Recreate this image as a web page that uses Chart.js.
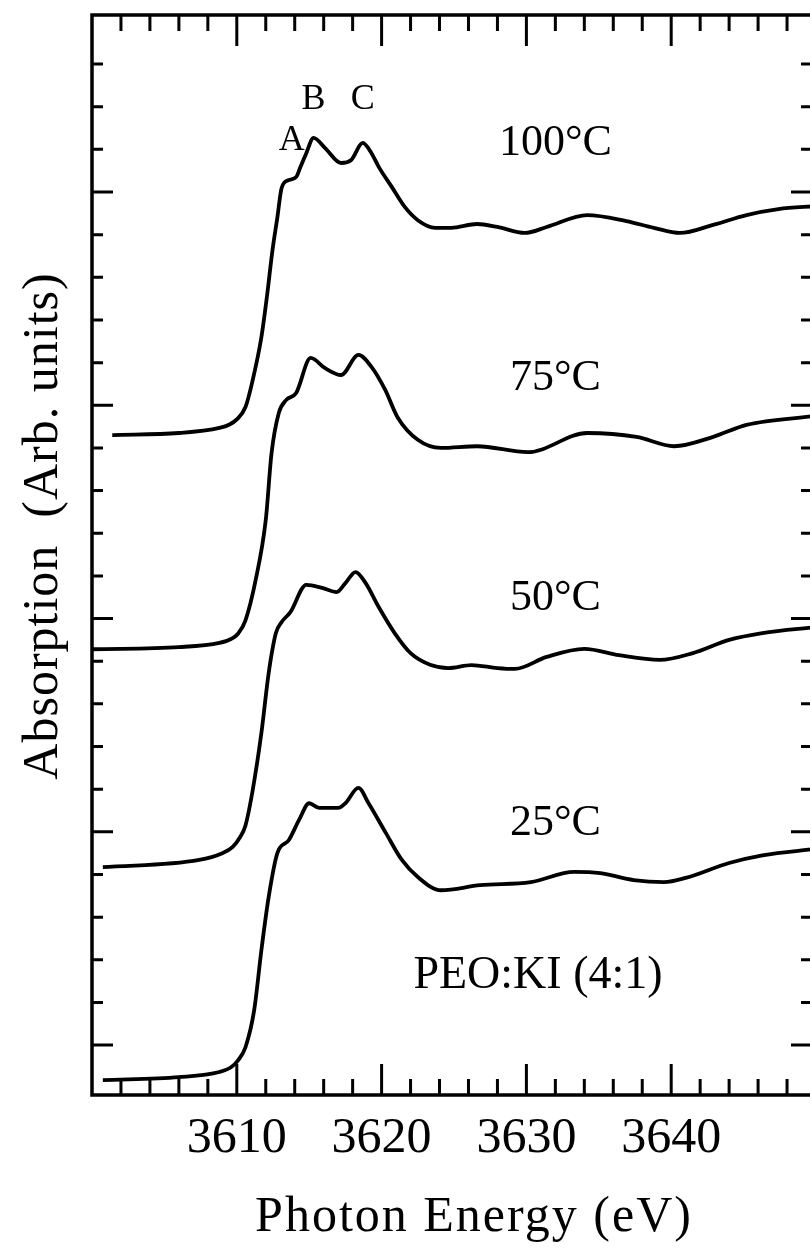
<!DOCTYPE html>
<html>
<head>
<meta charset="utf-8">
<script src="https://cdn.jsdelivr.net/npm/chart.js@4.4.1/dist/chart.umd.min.js"></script>
<style>
    html, body { margin: 0; padding: 0; background: #fff; overflow: hidden; width: 810px; height: 1252px; }
    canvas { display: block; }
</style>
</head>
<body>
<canvas id="xanes" width="822" height="1252"></canvas>
<script>
// ---- data (photon energy in eV, absorption in arb. units, curves stacked) ----
const xTickLabels = [3610, 3620, 3630, 3640];
const temperatures = ["100°C", "75°C", "50°C", "25°C"];
const peakLabels = ["A", "B", "C"];
const sampleLabel = "PEO:KI (4:1)";

const e100 = [3601.4, 3606.0, 3608.8, 3609.5, 3610.0, 3610.6, 3611.05, 3611.7, 3612.1, 3612.45, 3612.8, 3613.1, 3613.6, 3614.1, 3614.4, 3614.8, 3615.3, 3616.1, 3617.2, 3617.9, 3618.7, 3619.3, 3619.8, 3620.7, 3621.6, 3622.5, 3623.7, 3624.8, 3626.6, 3628.0, 3629.9, 3631.4, 3634.2, 3636.9, 3638.8, 3640.6, 3642.9, 3645.2, 3647.4, 3650.0];
const a100 = [14.30, 14.35, 14.47, 14.55, 14.67, 14.96, 15.52, 16.6, 17.6, 18.6, 19.4, 20.1, 20.28, 20.35, 20.59, 20.91, 21.27, 21.03, 20.68, 20.75, 21.15, 20.91, 20.59, 20.12, 19.65, 19.34, 19.16, 19.16, 19.25, 19.18, 19.04, 19.18, 19.46, 19.32, 19.16, 19.04, 19.23, 19.46, 19.60, 19.67];

const e75 = [3600.0, 3606.0, 3608.8, 3609.6, 3610.1, 3610.6, 3611.3, 3612.0, 3612.4, 3612.9, 3613.4, 3614.1, 3615.1, 3616.1, 3617.2, 3618.4, 3619.3, 3620.25, 3621.1, 3622.5, 3624.1, 3626.6, 3630.1, 3634.2, 3637.6, 3640.2, 3642.9, 3645.2, 3650.0];
const a75 = [9.28, 9.33, 9.43, 9.52, 9.65, 9.96, 10.90, 12.31, 13.88, 14.82, 15.12, 15.29, 16.11, 15.87, 15.71, 16.18, 15.90, 15.36, 14.72, 14.19, 14.00, 14.04, 13.90, 14.35, 14.26, 14.04, 14.26, 14.54, 14.75];

const e50 = [3600.75, 3607.4, 3609.0, 3609.7, 3610.2, 3610.6, 3611.1, 3611.7, 3612.2, 3612.7, 3613.1, 3613.7, 3614.8, 3615.9, 3616.9, 3617.5, 3618.2, 3618.9, 3619.8, 3620.9, 3622.0, 3623.4, 3624.6, 3626.2, 3628.0, 3629.2, 3631.4, 3634.0, 3636.4, 3639.2, 3641.5, 3644.0, 3646.3, 3650.0];
const a50 = [4.17, 4.34, 4.50, 4.64, 4.86, 5.15, 5.98, 7.32, 8.72, 9.66, 9.92, 10.15, 10.79, 10.72, 10.62, 10.83, 11.09, 10.83, 10.27, 9.66, 9.19, 8.91, 8.84, 8.91, 8.84, 8.82, 9.10, 9.29, 9.14, 9.03, 9.19, 9.50, 9.66, 9.80];

const e25 = [3600.75, 3606.0, 3608.8, 3609.6, 3610.1, 3610.6, 3611.2, 3611.7, 3612.2, 3612.8, 3613.6, 3614.3, 3615.0, 3615.7, 3617.0, 3617.5, 3618.4, 3619.1, 3620.3, 3621.4, 3622.5, 3624.1, 3626.8, 3630.3, 3633.3, 3635.1, 3637.4, 3639.5, 3641.0, 3644.0, 3646.3, 3650.0];
const a25 = [-0.82, -0.75, -0.63, -0.52, -0.35, -0.05, 0.82, 2.23, 3.47, 4.50, 4.81, 5.28, 5.67, 5.56, 5.56, 5.67, 6.03, 5.67, 4.97, 4.34, 3.94, 3.63, 3.75, 3.82, 4.06, 4.03, 3.87, 3.82, 3.92, 4.27, 4.45, 4.60];

const SERIF = "'Liberation Serif', 'Times New Roman', serif";

function toPoints(xs, ys) {
    return xs.map((x, i) => ({ x: x, y: ys[i] }));
}

function curve(label, xs, ys) {
    return {
        label: label,
        data: toPoints(xs, ys),
        borderColor: "#000",
        borderWidth: 3.8,
        pointRadius: 0,
        fill: false,
        cubicInterpolationMode: "monotone",
    };
}

// frame, inward ticks on all four sides, and the text labels
const frameAndText = {
    id: "frameAndText",
    afterDraw(chart) {
        const { ctx, chartArea: a, scales: { x, y } } = chart;
        ctx.save();
        ctx.strokeStyle = "#000";
        ctx.fillStyle = "#000";
        ctx.lineWidth = 3.5;
        ctx.lineCap = "square";

        ctx.strokeRect(a.left, a.top, a.right - a.left, a.bottom - a.top);

        ctx.lineCap = "butt";
        ctx.lineWidth = 3;
        x.ticks.forEach((t) => {
            const v = t.value;
            if (v <= x.min + 1e-6 || v >= x.max - 1e-6) return;
            const px = x.getPixelForValue(v);
            const major = Math.abs(v - Math.round(v / 10) * 10) < 1e-6;
            const len = major ? 31 : 16;
            ctx.beginPath();
            ctx.moveTo(px, a.bottom);
            ctx.lineTo(px, a.bottom - len);
            ctx.moveTo(px, a.top);
            ctx.lineTo(px, a.top + len);
            ctx.stroke();
        });

        y.ticks.forEach((t) => {
            const v = t.value;
            if (!Number.isInteger(v) || v <= y.min || v >= y.max) return;
            const py = y.getPixelForValue(v);
            const major = v % 5 === 0;
            ctx.beginPath();
            ctx.moveTo(a.left, py);
            ctx.lineTo(a.left + (major ? 21 : 11), py);
            ctx.moveTo(a.right, py);
            ctx.lineTo(a.right - (major ? 25 : 15), py);
            ctx.stroke();
        });

        ctx.textAlign = "center";
        ctx.textBaseline = "middle";
        ctx.font = "36px " + SERIF;
        const peakPos = [[3613.8, 21.2], [3615.3, 22.16], [3618.7, 22.16]];
        peakLabels.forEach((txt, i) => {
            ctx.fillText(txt, x.getPixelForValue(peakPos[i][0]), y.getPixelForValue(peakPos[i][1]));
        });

        ctx.textBaseline = "alphabetic";
        ctx.font = "44px " + SERIF;
        const tempBase = [20.87, 15.36, 10.2, 4.92];
        temperatures.forEach((txt, i) => {
            ctx.fillText(txt, x.getPixelForValue(3632), y.getPixelForValue(tempBase[i]));
        });
        ctx.font = "46px " + SERIF;
        ctx.fillText(sampleLabel, x.getPixelForValue(3630.8), y.getPixelForValue(1.34));

        // axis titles
        ctx.font = "50px " + SERIF;
        ctx.letterSpacing = "2px";
        ctx.fillText("Photon Energy (eV)", 474, 1231);
        ctx.translate(57, 526);
        ctx.rotate(-Math.PI / 2);
        ctx.letterSpacing = "1px";
        ctx.fillText("Absorption  (Arb. units)", 0, 0);
        ctx.restore();
    },
};

new Chart(document.getElementById("xanes"), {
    type: "line",
    data: {
        datasets: [
            curve(temperatures[0], e100, a100),
            curve(temperatures[1], e75, a75),
            curve(temperatures[2], e50, a50),
            curve(temperatures[3], e25, a25),
        ],
    },
    options: {
        responsive: false,
        animation: false,
        layout: { padding: { top: 15, right: 1, left: 0, bottom: 0 } },
        plugins: { legend: { display: false }, tooltip: { enabled: false } },
        scales: {
            x: {
                type: "linear",
                min: 3600,
                max: 3650,
                grid: { display: false },
                border: { display: false },
                ticks: {
                    stepSize: 2,
                    autoSkip: false,
                    maxRotation: 0,
                    padding: 6,
                    color: "#000",
                    font: { family: SERIF, size: 50 },
                    callback: (v) => (xTickLabels.includes(v) ? String(v) : ""),
                },
                afterFit: (s) => { s.height = 157; },
            },
            y: {
                type: "linear",
                min: -1.17,
                max: 24.15,
                grid: { display: false },
                border: { display: false },
                ticks: { stepSize: 1, display: false },
                afterFit: (s) => { s.width = 92; },
            },
        },
    },
    plugins: [frameAndText],
});
</script>
</body>
</html>
